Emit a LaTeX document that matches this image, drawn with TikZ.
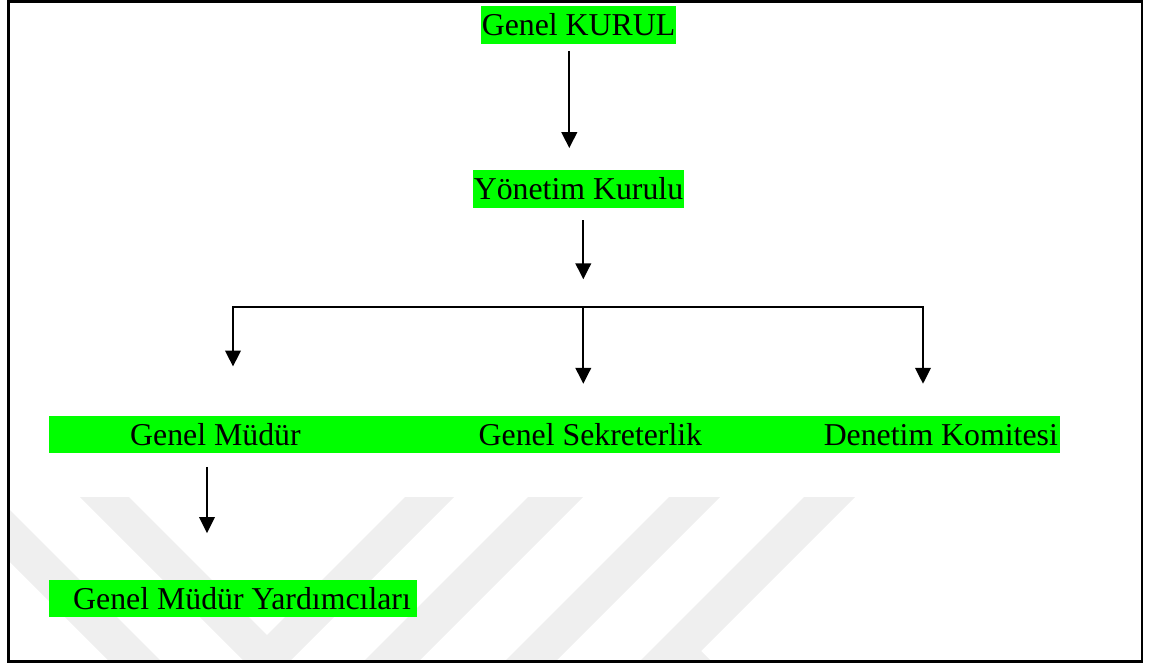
\documentclass[tikz,border=0pt]{standalone}
\usepackage{fontspec}
\setmainfont{Liberation Serif}
\usetikzlibrary{arrows.meta}
\definecolor{hl}{RGB}{0,255,0}
\definecolor{wm}{RGB}{239,239,239}
\tikzset{
  txt/.style={inner sep=0pt, inner xsep=1pt, text height=29.5pt, text depth=7.7pt,
              font=\fontsize{31.8pt}{38pt}\selectfont},
  greenbox/.style={txt, fill=hl},
  conn/.style={line width=2.3pt, draw=black},
  arr/.style={conn, -{Triangle[width=15.5pt,length=16pt]}},
  wmark/.style={fill=wm, draw=none}
}
\begin{document}
\begin{tikzpicture}[x=1pt,y=-1pt]
\useasboundingbox (0,0) rectangle (1157,666);
% watermark
\begin{scope}
\clip (8.7,1.2) rectangle (1142,661.7);
\fill[wmark] (-55,497) -- (-3,497) -- (180,680) -- (128,680) -- cycle;
\fill[wmark] (80,497) -- (129,497) -- (267,635) -- (405,497) -- (454,497) -- (267,684) -- cycle;
\fill[wmark] (528,497) -- (583,497) -- (400,680) -- (345,680) -- cycle;
\fill[wmark] (669,497) -- (720,497) -- (537,680) -- (486,680) -- cycle;
\fill[wmark] (804,497) -- (855,497) -- (701,651) -- (730,680) -- (621,680) -- cycle;
\end{scope}
% frame
\draw[line width=2.7pt] (8.7,1.2) rectangle (1142,661.7);
% nodes
\node (kurul) [greenbox, anchor=base] at (578.5,36) {Genel KURUL};
\node (yon) [greenbox, anchor=base] at (578.5,200) {Yönetim Kurulu};
\node (band) [fill=hl, inner sep=0pt, minimum width=1011pt, minimum height=36.7pt, anchor=north west] at (49,416) {};
\node (gm) [txt, anchor=base west] at (129,445.7) {Genel Müdür};
\node (gs) [txt, anchor=base west] at (477.5,445.7) {Genel Sekreterlik};
\node (dk) [txt, anchor=base east] at (1059,445.7) {Denetim Komitesi};
\node (gmy) [greenbox, anchor=base west] at (49,609) {\hspace*{23pt}Genel Müdür Yardımcıları\hspace*{5pt}};
% connector coordinates
\coordinate (xa) at (569.3,0);
\coordinate (bus) at (583.3,306.7);
\coordinate (busL) at (233,306.7);
\coordinate (busR) at (923,306.7);
\coordinate (xg) at (207,0);
% connectors
\draw[arr, shorten <=7pt, shorten >=22.2pt] (kurul.south -| xa) -- (yon.north -| xa);
\draw[arr, shorten <=12.3pt, shorten >=27.4pt] (yon.south -| bus) -- (bus);
\draw[conn, line width=2pt, line cap=rect] (busL) -- (busR);
\draw[arr, shorten >=49.5pt] (busL) -- (busL |- gm.north);
\draw[arr, shorten >=32.2pt] (bus) -- (bus |- gs.north);
\draw[arr, shorten >=32.2pt] (busR) -- (busR |- dk.north);
\draw[arr, shorten <=13.3pt, shorten >=46.2pt] (gm.south -| xg) -- (gmy.north -| xg);
\end{tikzpicture}
\end{document}
